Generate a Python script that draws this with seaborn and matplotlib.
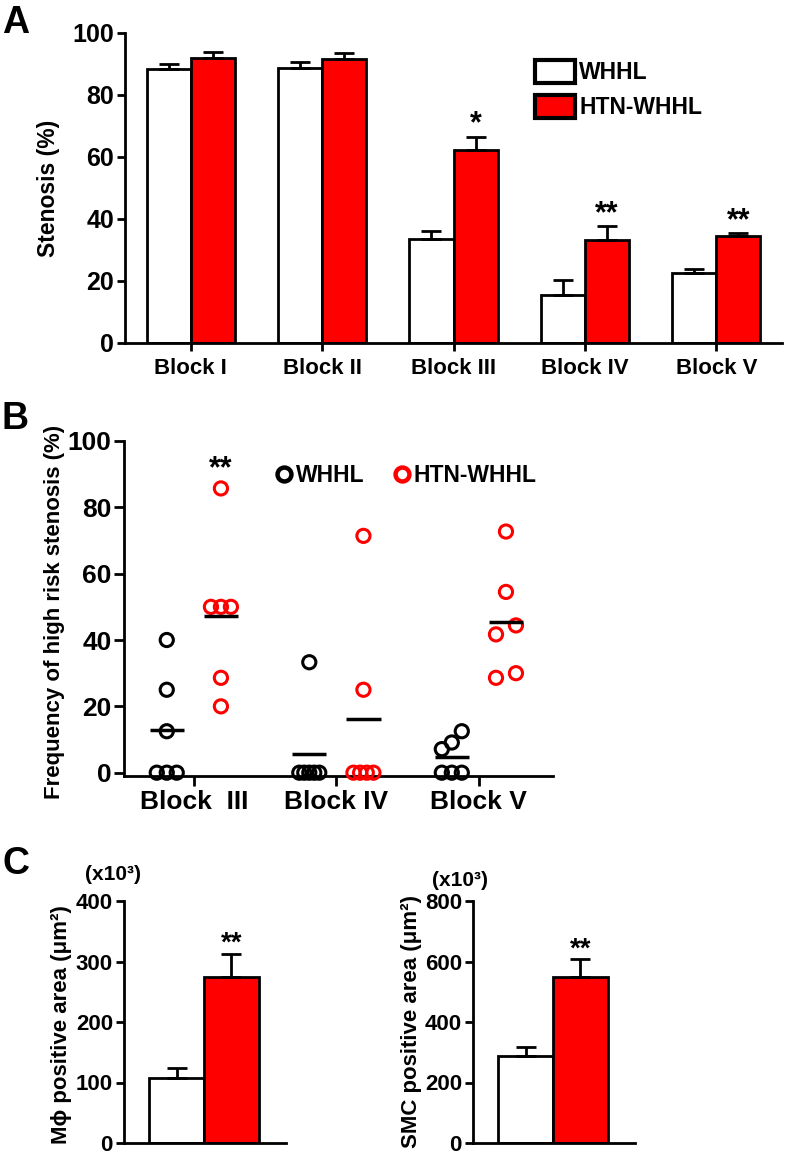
import numpy as np
import pandas as pd
import seaborn as sns
import matplotlib
matplotlib.use("Agg")
import matplotlib.pyplot as plt
from matplotlib.patches import Patch
from matplotlib.lines import Line2D

# ---- dati pannello A (stenosi %, media + SEM)
blocchi_a = ["Block I", "Block II", "Block III", "Block IV", "Block V"]
whhl_a = [88.4, 88.7, 33.4, 15.5, 22.5]
whhl_a_err = [1.5, 1.8, 2.7, 4.8, 1.5]
htn_a = [92.0, 91.5, 62.3, 33.2, 34.5]
htn_a_err = [1.8, 1.9, 4.3, 4.5, 0.9]
stelle_a = ["", "", "*", "**", "**"]

# ---- dati pannello B (frequenza stenosi ad alto rischio, singoli animali)
blocchi_b = ["Block  III", "Block IV", "Block V"]
whhl_b = [
    [40, 25, 12.5, 0, 0, 0],
    [33.3, 0, 0, 0, 0, 0],
    [12.5, 9.1, 7.1, 0, 0, 0],
]
htn_b = [
    [85.7, 50, 50, 50, 28.6, 20],
    [71.4, 25, 0, 0, 0, 0],
    [72.7, 54.5, 44.4, 41.7, 30, 28.6],
]

# ---- dati pannello C (area positiva, x10^3 um^2)
gruppi = ["WHHL", "HTN-WHHL"]
mphi_area = [108, 275]
mphi_err = [16, 37]
smc_area = [289, 550]
smc_err = [27, 57]

colori = {"WHHL": "white", "HTN-WHHL": "#ff0000"}
colori_punti = {"WHHL": "black", "HTN-WHHL": "#ff0000"}

sns.set_style("ticks")
plt.rcParams["font.family"] = ["Liberation Sans", "DejaVu Sans"]
plt.rcParams["font.weight"] = "bold"
plt.rcParams["axes.labelweight"] = "bold"
plt.rcParams["axes.linewidth"] = 2
plt.rcParams["xtick.major.width"] = 2
plt.rcParams["ytick.major.width"] = 2
plt.rcParams["xtick.color"] = "black"
plt.rcParams["ytick.color"] = "black"
plt.rcParams["axes.edgecolor"] = "black"
plt.rcParams["text.color"] = "black"
plt.rcParams["axes.labelcolor"] = "black"

W, H = 788, 1155
fig = plt.figure(figsize=(W / 100, H / 100), dpi=100)


def box(x0, y_top, x1, y_bot):
    # coordinate in pixel -> frazione figura
    return [x0 / W, 1 - y_bot / H, (x1 - x0) / W, (y_bot - y_top) / H]


def stile_assi(ax, fs_tick):
    sns.despine(ax=ax)
    ax.tick_params(axis="both", length=6, pad=2, labelsize=fs_tick)
    for lab in ax.get_xticklabels() + ax.get_yticklabels():
        lab.set_fontweight("bold")


def barre_errore(ax, errori, stelle=None, fs_stelle=22):
    # barre ordinate per posizione: errori e stelle vanno nello stesso ordine
    patches = sorted(ax.patches, key=lambda p: p.get_x())
    xs = [p.get_x() + p.get_width() / 2 for p in patches]
    hs = [p.get_height() for p in patches]
    ax.errorbar(xs, hs, yerr=[np.zeros(len(errori)), errori], fmt="none",
                ecolor="black", elinewidth=2, capsize=7.5, capthick=2, zorder=1)
    if stelle is not None:
        for x, h, e, s in zip(xs, hs, errori, stelle):
            if s:
                ax.annotate(s, (x, h + e), xytext=(0, -2), textcoords="offset points",
                            ha="center", va="bottom", fontsize=fs_stelle, fontweight="bold")


# ================= Pannello A
ax_a = fig.add_axes(box(125, 33, 782, 343))
df_a = pd.DataFrame({
    "blocco": blocchi_a * 2,
    "gruppo": ["WHHL"] * 5 + ["HTN-WHHL"] * 5,
    "stenosi": whhl_a + htn_a,
})
sns.barplot(data=df_a, x="blocco", y="stenosi", hue="gruppo", order=blocchi_a,
            hue_order=gruppi, palette=colori, width=0.67, edgecolor="black",
            linewidth=2, errorbar=None, saturation=1, legend=False, ax=ax_a)

err_a = []
stelle_ord = []
for i in range(5):
    err_a += [whhl_a_err[i], htn_a_err[i]]
    stelle_ord += ["", stelle_a[i]]
barre_errore(ax_a, err_a, stelle_ord, fs_stelle=22)

ax_a.set_xlim(-0.5, 4.5)
ax_a.set_ylim(0, 100)
ax_a.set_yticks(range(0, 101, 20))
ax_a.set_xlabel("")
ax_a.set_ylabel("Stenosis (%)", fontsize=16.5, fontweight="bold")
ax_a.yaxis.set_label_coords(-0.099, 0.5)
stile_assi(ax_a, 18)
ax_a.tick_params(axis="x", labelsize=16, pad=5)

maniglie_a = [Patch(facecolor=colori[g], edgecolor="black", linewidth=3) for g in gruppi]
ax_a.legend(maniglie_a, gruppi, loc="upper left", bbox_to_anchor=(0.624, 0.913),
            frameon=False, handlelength=1.73, handleheight=1.2,
            handletextpad=0.2, labelspacing=0.45, borderpad=0, borderaxespad=0,
            prop={"weight": "bold", "size": 16.5})

# ================= Pannello B
ax_b = fig.add_axes(box(124, 441, 553, 776))


def sparpaglia(valori, larghezza=0.14, tol=4):
    # distribuisce in orizzontale i punti con valori vicini (stile GraphPad)
    v = np.asarray(valori, float)
    ordine = np.argsort(v)
    offs = np.zeros(len(v))
    gruppi_vicini = [[ordine[0]]]
    for i in ordine[1:]:
        if v[i] - v[gruppi_vicini[-1][-1]] < tol:
            gruppi_vicini[-1].append(i)
        else:
            gruppi_vicini.append([i])
    for g in gruppi_vicini:
        if len(g) > 1:
            offs[g] = np.linspace(-larghezza / 2, larghezza / 2, len(g))
    return offs


righe = []
spost = {"WHHL": -0.19, "HTN-WHHL": 0.19}
for i, blocco in enumerate(blocchi_b):
    for gruppo, serie in (("WHHL", whhl_b), ("HTN-WHHL", htn_b)):
        offs = sparpaglia(serie[i])
        for v, o in zip(serie[i], offs):
            righe.append({"blocco": blocco, "gruppo": gruppo, "valore": v,
                          "centro": i + spost[gruppo], "xpos": i + spost[gruppo] + o})
df_b = pd.DataFrame(righe)

for gruppo in gruppi:
    sub = df_b[df_b["gruppo"] == gruppo]
    c = colori_punti[gruppo]
    sns.scatterplot(data=sub, x="xpos", y="valore", color=c, facecolor="none",
                    edgecolor=c, linewidth=2.2, s=90, legend=False, ax=ax_b, zorder=3,
                    clip_on=False)

medie = df_b.groupby(["blocco", "gruppo", "centro"], sort=False)["valore"].mean().reset_index()
ax_b.hlines(medie["valore"], medie["centro"] - 0.12, medie["centro"] + 0.12,
            color="black", linewidth=2.5, zorder=4)

htn_iii = df_b[(df_b["blocco"] == blocchi_b[0]) & (df_b["gruppo"] == "HTN-WHHL")]
ax_b.annotate("**", (htn_iii["centro"].iloc[0], htn_iii["valore"].max()), xytext=(0, 3),
              textcoords="offset points", ha="center", va="bottom", fontsize=22,
              fontweight="bold")

ax_b.set_xlim(-0.49, 2.52)
ax_b.set_ylim(-1, 100)
ax_b.set_xticks(range(3))
ax_b.set_xticklabels(blocchi_b)
ax_b.set_yticks(range(0, 101, 20))
ax_b.set_xlabel("")
ax_b.set_ylabel("Frequency of high risk stenosis (%)", fontsize=16, fontweight="bold")
ax_b.yaxis.set_label_coords(-0.1375, 0.49)
stile_assi(ax_b, 19)
ax_b.tick_params(axis="x", labelsize=19, pad=3, length=7)
ax_b.tick_params(axis="y", length=7)

maniglie_b = [Line2D([], [], linestyle="none", marker="o", markersize=10,
                     markerfacecolor="none", markeredgecolor=colori_punti[g],
                     markeredgewidth=3.2) for g in gruppi]
ax_b.legend(maniglie_b, gruppi, loc="center left", bbox_to_anchor=(0.355, 0.896),
            ncol=2, frameon=False, handlelength=0.7, handletextpad=0.15,
            columnspacing=1.3, borderpad=0, borderaxespad=0,
            prop={"weight": "bold", "size": 16.5})


# ================= Pannello C
def pannello_c(ax, valori, errori, ymax, passo, etichetta):
    sns.barplot(x=gruppi, y=valori, hue=gruppi, order=gruppi, hue_order=gruppi,
                palette=colori, width=1.0, edgecolor="black", linewidth=2,
                errorbar=None, saturation=1, legend=False, ax=ax)
    barre_errore(ax, errori, ["", "**"], fs_stelle=20)
    ax.set_xlim(-0.96, 2.0)
    ax.set_ylim(0, ymax)
    ax.set_yticks(range(0, ymax + 1, passo))
    ax.set_xticks([])
    ax.set_xlabel("")
    ax.set_ylabel(etichetta, fontsize=16, fontweight="bold")
    stile_assi(ax, 16)


ax_c1 = fig.add_axes(box(124, 901, 286, 1143))
pannello_c(ax_c1, mphi_area, mphi_err, 400, 100, "Mϕ positive area (μm²)")
ax_c1.yaxis.set_label_coords(-0.32, 0.49)

ax_c2 = fig.add_axes(box(473, 901, 635, 1143))
pannello_c(ax_c2, smc_area, smc_err, 800, 200, "SMC positive area (μm²)")
ax_c2.yaxis.set_label_coords(-0.315, 0.5)

fig.text(85 / W, 1 - 875 / H, "(x10³)", fontsize=15, fontweight="bold", va="center")
fig.text(432 / W, 1 - 880 / H, "(x10³)", fontsize=15, fontweight="bold", va="center")

# lettere dei pannelli
for lettera, y in (("A", 5), ("B", 401), ("C", 846)):
    fig.text(2 / W, 1 - y / H, lettera, fontsize=27, fontweight="bold", va="top")

fig.savefig("out.png", dpi=100)
